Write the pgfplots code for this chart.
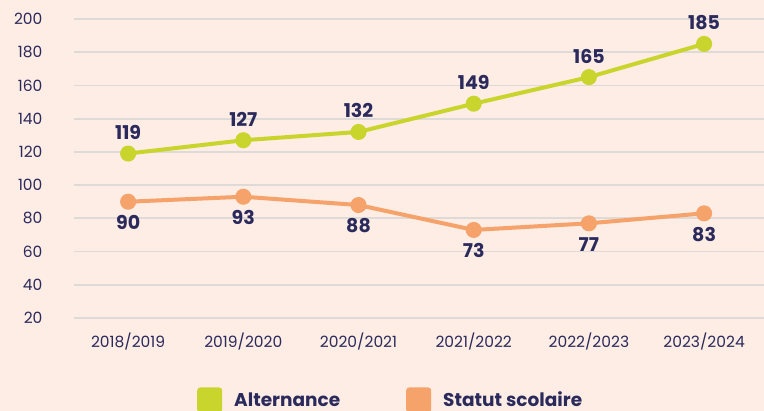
\documentclass[border=0pt]{standalone}
\usepackage{pgfplots}
\pgfplotsset{compat=1.18}
\usepackage{fontspec}
\setmainfont{Poppins}
\definecolor{bg}{HTML}{FDEDE4}
\definecolor{cgreen}{HTML}{C9D52C}
\definecolor{corange}{HTML}{F5A36B}
\definecolor{navy}{HTML}{2B2A5C}
\definecolor{gridc}{HTML}{DDDAD8}
\begin{document}
\begin{tikzpicture}[x=1pt,y=1pt]
\fill[bg] (0,0) rectangle (764,411);
\useasboundingbox (0,0) rectangle (764,411);
\begin{axis}[
  at={(74pt,93pt)}, anchor=south west,
  scale only axis, width=690pt, height=299pt,
  xmin=-0.47, xmax=5.52, ymin=20, ymax=200,
  axis line style={draw=none},
  ymajorgrids, grid style={gridc, line width=1.8pt},
  ytick={20,40,...,200},
  xtick={0,...,5},
  xticklabels={2018/2019,2019/2020,2020/2021,2021/2022,2022/2023,2023/2024},
  major tick length=0pt,
  tick label style={font=\fontsize{15.5}{17}\selectfont, text=navy},
  /pgf/number format/assume math mode=true,
  yticklabel style={anchor=east, xshift=-28pt},
  xticklabel style={anchor=center, yshift=-24pt},
  clip=false,
  legend style={at={(120pt,-82pt)}, anchor=west, draw=none, fill=none,
    legend columns=2, font=\fontsize{18.5}{20}\selectfont\bfseries, text=navy,
    /tikz/every odd column/.append style={column sep=10pt},
    /tikz/every even column/.append style={column sep=64pt}},
  legend image code/.code={\fill[#1, draw=none, rounded corners=3pt] (0pt,-12.5pt) rectangle (25pt,12.5pt);},
  legend cell align=left,
  every axis plot/.append style={line width=4pt, mark=*, mark size=6pt},
  nodes near coords,
  every node near coord/.append style={font=\fontsize{19}{21}\selectfont\bfseries, text=navy},
]
\addplot[cgreen, mark options={fill=cgreen, draw=none},
  every node near coord/.append style={anchor=center, yshift=21pt}]
  coordinates {(0,119) (1,127) (2,132) (3,149) (4,165) (5,185)};
\addplot[corange, mark options={fill=corange, draw=none},
  every node near coord/.append style={anchor=center, yshift=-21pt}]
  coordinates {(0,90) (1,93) (2,88) (3,73) (4,77) (5,83)};
\legend{Alternance, Statut scolaire}
\end{axis}
\end{tikzpicture}
\end{document}
